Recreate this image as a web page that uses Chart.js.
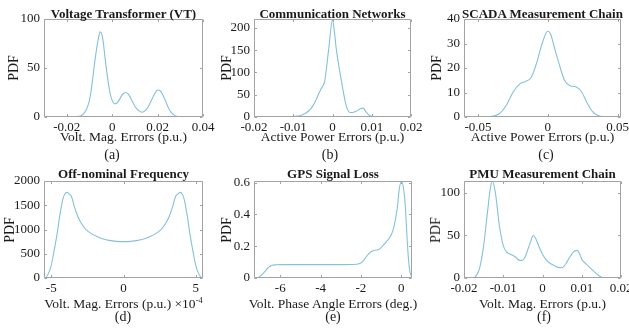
<!DOCTYPE html>
<html>
<head>
<meta charset="utf-8">
<script src="https://cdn.jsdelivr.net/npm/chart.js@4.4.1/dist/chart.umd.min.js"></script>
<style>
  html, body { margin: 0; padding: 0; background: #fff; }
  #fig { position: relative; width: 629px; height: 329px; overflow: hidden;
         font-family: "Liberation Serif", "Times New Roman", serif; color: #1a1a1a; }
  #fig canvas { position: absolute; left: 0; top: 0; }
  .lbl { position: absolute; white-space: nowrap; line-height: 1; }
  .exp { font-size: 8.5px; position: relative; top: -5px; }
</style>
</head>
<body>
<div id="fig"></div>
<script>
// ---- data (kernel density curves) ----
// (a) Voltage Transformer
const vtX = [-0.03, -0.02, -0.016, -0.014, -0.013, -0.012, -0.011, -0.010, -0.009, -0.008,
  -0.007, -0.006, -0.0053, -0.0045, -0.004, -0.003, -0.002, -0.001, 0, 0.001,
  0.002, 0.003, 0.004, 0.005, 0.006, 0.007, 0.008, 0.009, 0.010, 0.011,
  0.012, 0.013, 0.014, 0.015, 0.016, 0.017, 0.018, 0.019, 0.020, 0.021,
  0.022, 0.023, 0.024, 0.025, 0.026, 0.027, 0.028, 0.029, 0.031, 0.04];
const vtY = [0, 0.05, 0.3, 1, 2.5, 5, 9.5, 17, 31, 50,
  67, 81, 87, 84, 78, 58, 40, 25, 17, 13.5,
  14, 17, 21, 24, 25, 23.5, 20, 15.5, 11, 8,
  6, 5, 5.5, 7.5, 11, 15.5, 20.5, 25, 27.5, 27,
  24, 19, 13.5, 8.5, 4.8, 2.4, 1, 0.4, 0.05, 0];

// (b) Communication Networks
const commX = [-0.02, -0.012, -0.010, -0.009, -0.008, -0.007, -0.006, -0.005, -0.004, -0.003,
  -0.0025, -0.002, -0.001, 0, 0.0005, 0.001, 0.002, 0.003, 0.0035, 0.004,
  0.0045, 0.005, 0.006, 0.007, 0.0078, 0.0085, 0.0095, 0.011, 0.013, 0.02];
const commY = [0, 0.3, 1, 2, 4, 8, 14, 25, 42, 62,
  69, 80, 150, 218, 190, 150, 95, 45, 25, 14,
  10, 10, 13, 18, 20, 12, 3, 0.8, 0.2, 0];

// (c) SCADA Measurement Chain
const scadaX = [-0.06, -0.045, -0.04, -0.035, -0.03, -0.025, -0.02, -0.016, -0.012, -0.008,
  -0.004, 0, 0.002, 0.004, 0.008, 0.012, 0.016, 0.02, 0.024, 0.028,
  0.032, 0.036, 0.04, 0.0525];
const scadaY = [0, 0.05, 0.3, 1.2, 4.5, 10, 13.5, 14.5, 16, 22,
  30, 35, 34, 30, 22, 15, 12.8, 12.3, 10.5, 6,
  2.3, 0.6, 0.1, 0];

// (d) Off-nominal Frequency (x in units of 1e-4)
const freqX = [-5.5, -5.4, -5.2, -5.0, -4.8, -4.6, -4.4, -4.2, -4.0, -3.9,
  -3.8, -3.6, -3.4, -3.2, -3.0, -2.6, -2.2, -1.8, -1.4, -1.0,
  -0.5, 0, 0.5, 1.0, 1.4, 1.8, 2.2, 2.6, 3.0, 3.2,
  3.4, 3.6, 3.8, 3.9, 4.0, 4.2, 4.4, 4.6, 4.8, 5.0,
  5.2, 5.4, 5.5];
const freqY = [0, 5, 90, 260, 560, 900, 1300, 1620, 1755, 1765,
  1740, 1680, 1470, 1300, 1170, 1000, 910, 850, 805, 775,
  755, 750, 755, 775, 805, 850, 910, 1000, 1170, 1300,
  1470, 1680, 1740, 1765, 1755, 1620, 1300, 900, 560, 260,
  90, 5, 0];

// (e) GPS Signal Loss
const gpsX = [-7.3, -7.15, -7.0, -6.8, -6.6, -6.4, -6.2, -6.0, -5.0, -4.0,
  -3.0, -2.4, -2.1, -1.9, -1.7, -1.5, -1.3, -1.1, -0.9, -0.7,
  -0.5, -0.35, -0.2, -0.1, 0, 0.1, 0.2, 0.3, 0.4, 0.5, 0.53];
const gpsY = [0, 0.002, 0.01, 0.035, 0.065, 0.08, 0.083, 0.084, 0.084, 0.084,
  0.084, 0.085, 0.09, 0.105, 0.14, 0.165, 0.175, 0.18, 0.205, 0.235,
  0.27, 0.33, 0.44, 0.56, 0.605, 0.57, 0.45, 0.22, 0.06, 0.01, 0.002];

// (f) PMU Measurement Chain
const pmuX = [-0.02, -0.018, -0.017, -0.016, -0.015, -0.014, -0.0133, -0.0128, -0.012, -0.011,
  -0.010, -0.009, -0.008, -0.007, -0.006, -0.0052, -0.0045, -0.004, -0.003, -0.0024,
  -0.0018, -0.001, 0, 0.001, 0.002, 0.003, 0.004, 0.0048, 0.0055, 0.006,
  0.007, 0.008, 0.0088, 0.0095, 0.010, 0.011, 0.012, 0.013, 0.014, 0.015,
  0.016, 0.02];
const pmuY = [0, 0.1, 2, 12, 38, 78, 105, 114, 100, 62,
  38, 30, 27.5, 25, 21, 20.5, 24, 30, 43, 50,
  47, 38, 28, 21, 17, 14.5, 12.5, 12, 14, 17,
  25, 31, 32.5, 28, 22, 17, 12.5, 8, 4, 1,
  0.1, 0];

// axis limits and tick values
const xLimits = [[-0.03, 0.04], [-0.02, 0.02], [-0.06, 0.0525], [-5.5, 5.5], [-7.3, 0.53], [-0.02, 0.02]];
const yMaxes = [100, 220, 40, 2000, 0.61, 114];
const xTickVals = [[-0.02, 0, 0.02, 0.04], [-0.02, -0.01, 0, 0.01, 0.02], [-0.05, 0, 0.05],
  [-5, 0, 5], [-6, -4, -2, 0], [-0.02, -0.01, 0, 0.01, 0.02]];
const yTickVals = [[0, 50, 100], [0, 50, 100, 150, 200], [0, 10, 20, 30, 40],
  [0, 500, 1000, 1500, 2000], [0, 0.2, 0.4, 0.6], [0, 50, 100]];

// texts
const titles = ["Voltage Transformer (VT)", "Communication Networks", "SCADA Measurement Chain",
  "Off-nominal Frequency", "GPS Signal Loss", "PMU Measurement Chain"];
const xLabels = ["Volt. Mag. Errors (p.u.)", "Active Power Errors (p.u.)", "Active Power Errors (p.u.)",
  "Volt. Mag. Errors (p.u.)", "Volt. Phase Angle Errors (deg.)", "Volt. Mag. Errors (p.u.)"];
const xExponents = [null, null, null, "-4", null, null];
const captions = ["(a)", "(b)", "(c)", "(d)", "(e)", "(f)"];
const yLabel = "PDF";

const seriesX = [vtX, commX, scadaX, freqX, gpsX, pmuX];
const seriesY = [vtY, commY, scadaY, freqY, gpsY, pmuY];

// ---- layout (page pixels) ----
const W = 629, H = 329;
const Y_W = 40, X_H = 20;
const LINE = "#84c1dc";
const AXIS = "#a3a3a3";
const TICK_LEN = 2.5;
const FONT = "Liberation Serif";

// plot boxes [left, right, top, bottom] and where the loose texts sit
const boxes = [[44, 203, 19, 117], [254, 411, 19, 117], [464, 621, 19, 117],
  [44, 203, 181, 278], [254, 412, 181, 278], [464, 621, 181, 278]];
const captionX = [112, 330, 546, 123, 333, 544];
const pdfX = [14, 227, 437, 10, 227, 436];
const titleBase = [18, 178], xLabelBase = [141, 308.5], captionBase = [159.5, 321.5];

const fig = document.getElementById("fig");

function addText(html, x, base, size, bold) {
  const d = document.createElement("div");
  d.className = "lbl";
  d.innerHTML = html;
  d.style.fontSize = size + "px";
  if (bold) d.style.fontWeight = "bold";
  d.style.left = x + "px";
  d.style.top = (base - 0.8375 * size) + "px";
  d.style.transform = "translateX(-50%)";
  fig.appendChild(d);
}

function addVertical(text, cx, cy, size) {
  const d = document.createElement("div");
  d.className = "lbl";
  d.textContent = text;
  d.style.fontSize = size + "px";
  d.style.left = cx + "px";
  d.style.top = cy + "px";
  d.style.transform = "translate(-50%, -50%) rotate(-90deg)";
  fig.appendChild(d);
}

// MATLAB style box with inward ticks on all four sides
const boxPlugin = {
  id: "matlabBox",
  afterDraw(chart) {
    const { ctx, chartArea: a, scales } = chart;
    const L = a.left + 0.5, R = a.right - 0.5, T = a.top + 0.5, B = a.bottom - 0.5;
    ctx.save();
    ctx.strokeStyle = AXIS;
    ctx.lineWidth = 1;
    ctx.beginPath();
    ctx.rect(L, T, R - L, B - T);
    for (const t of scales.x.ticks) {
      const px = Math.round(scales.x.getPixelForValue(t.value)) + 0.5;
      ctx.moveTo(px, B); ctx.lineTo(px, B - TICK_LEN);
      ctx.moveTo(px, T); ctx.lineTo(px, T + TICK_LEN);
    }
    for (const t of scales.y.ticks) {
      const py = Math.round(scales.y.getPixelForValue(t.value)) + 0.5;
      ctx.moveTo(L, py); ctx.lineTo(L + TICK_LEN, py);
      ctx.moveTo(R, py); ctx.lineTo(R - TICK_LEN, py);
    }
    ctx.stroke();
    ctx.restore();
  },
};

const tickFont = { family: FONT, size: 13 };

function makePanel(i) {
  const [L, R, T, B] = boxes[i];
  const canvas = document.createElement("canvas");
  canvas.width = W;
  canvas.height = H;
  fig.appendChild(canvas);

  new Chart(canvas, {
    type: "line",
    data: {
      datasets: [{
        data: seriesX[i].map((x, k) => ({ x, y: seriesY[i][k] })),
        borderColor: LINE,
        borderWidth: 1.1,
        pointRadius: 0,
        cubicInterpolationMode: "monotone",
        fill: false,
      }],
    },
    options: {
      responsive: false,
      animation: false,
      events: [],
      layout: { padding: { left: L - Y_W, top: T, right: W - R, bottom: H - B - X_H } },
      plugins: { legend: { display: false }, tooltip: { enabled: false } },
      scales: {
        x: {
          type: "linear",
          min: xLimits[i][0],
          max: xLimits[i][1],
          grid: { display: false, drawTicks: false },
          border: { display: false },
          ticks: { font: tickFont, color: "#1a1a1a", padding: 3, maxRotation: 0, autoSkip: false, callback: (v) => String(v) },
          afterBuildTicks: (s) => { s.ticks = xTickVals[i].map((v) => ({ value: v })); },
          afterFit: (s) => { s.height = X_H; s.paddingLeft = 0; s.paddingRight = 0; },
        },
        y: {
          type: "linear",
          min: 0,
          max: yMaxes[i],
          grid: { display: false, drawTicks: false },
          border: { display: false },
          ticks: { font: tickFont, color: "#1a1a1a", padding: 4, autoSkip: false, callback: (v) => String(v) },
          afterBuildTicks: (s) => { s.ticks = yTickVals[i].map((v) => ({ value: v })); },
          afterFit: (s) => { s.width = Y_W; s.paddingTop = 0; s.paddingBottom = 0; },
        },
      },
    },
    plugins: [boxPlugin],
  });

  const row = i < 3 ? 0 : 1;
  const mid = (L + R) / 2;
  addText(titles[i], mid, titleBase[row], 13, true);
  let xl = xLabels[i];
  if (xExponents[i]) xl += ' &times;10<span class="exp">' + xExponents[i] + "</span>";
  addText(xl, mid, xLabelBase[row], 13.5, false);
  addText(captions[i], captionX[i], captionBase[row], 14, false);
  addVertical(yLabel, pdfX[i], (T + B) / 2, 14);
}

for (let i = 0; i < 6; i++) makePanel(i);
</script>
</body>
</html>
